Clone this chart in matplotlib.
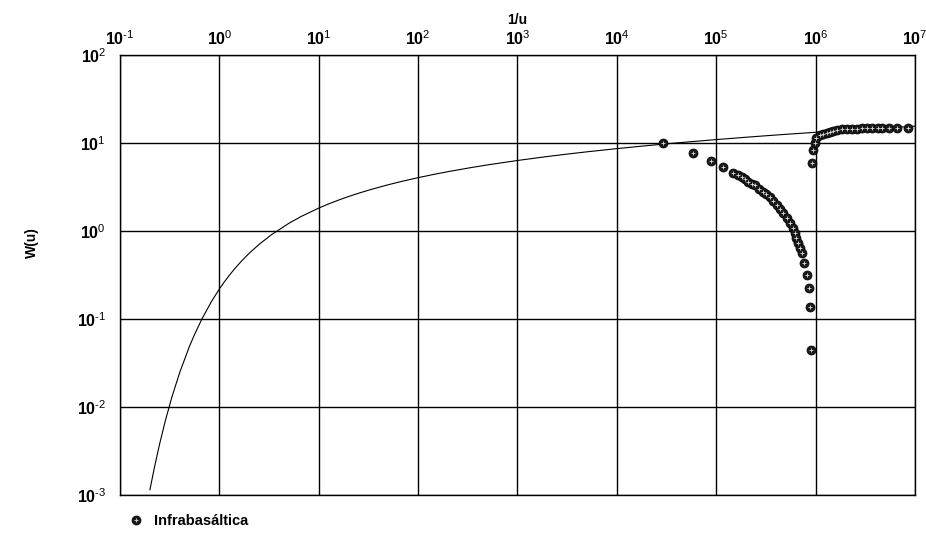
import numpy as np
import matplotlib
matplotlib.use("Agg")
import matplotlib.pyplot as plt
from matplotlib.legend_handler import HandlerTuple

plt.rcParams['font.family'] = ['Liberation Sans', 'DejaVu Sans']
plt.rcParams['mathtext.fontset'] = 'custom'
plt.rcParams['mathtext.rm'] = 'Liberation Sans'
plt.rcParams['mathtext.bf'] = 'Liberation Sans:bold'

# curva tipo de Theis (valores de tabla W(u))
u_tab = [5, 4.5, 4, 3.5, 3, 2.5, 2, 1.8, 1.5, 1.2, 1, 0.9, 0.8, 0.7, 0.6, 0.5, 0.4,
         0.3, 0.2, 0.15, 0.1, 0.08, 0.06, 0.05, 0.04, 0.03, 0.02, 0.015,
         0.01, 7e-3, 5e-3, 3e-3, 2e-3, 1e-3, 5e-4, 3e-4, 2e-4, 1e-4, 5e-5, 3e-5,
         2e-5, 1e-5, 5e-6, 3e-6, 2e-6, 1e-6, 5e-7, 3e-7, 2e-7, 1e-7]
w_tab = [1.148e-3, 2.073e-3, 3.779e-3, 6.970e-3, 1.305e-2, 2.491e-2, 4.890e-2,
         6.471e-2, 0.1000, 0.1584, 0.2194, 0.2602, 0.3106, 0.3738, 0.4544, 0.5598,
         0.7024, 0.9057, 1.2227, 1.4645, 1.8229, 2.0269, 2.2953, 2.4679, 2.6813,
         2.9591, 3.3547, 3.6374, 4.0379, 4.3916, 4.7261, 5.2349, 5.6394, 6.3315,
         7.0242, 7.5348, 7.9402, 8.6332, 9.3263, 9.8371, 10.2426, 10.9357,
         11.6289, 12.1397, 12.5451, 13.2383, 13.9314, 14.4423, 14.8477, 15.5409]

# datos Infrabasaltica
x_datos = [2.9e4, 5.8e4, 8.8e4, 1.16e5, 1.47e5, 1.65e5, 1.8e5, 1.95e5, 2.1e5, 2.3e5,
           2.45e5, 2.7e5, 2.95e5, 3.2e5, 3.47e5, 3.75e5, 4.07e5, 4.4e5, 4.7e5, 5.1e5,
           5.5e5, 5.9e5, 6.2e5, 6.4e5, 6.6e5, 7.0e5, 7.3e5, 7.6e5, 8.2e5, 8.5e5,
           8.7e5, 8.9e5,
           9.1e5, 9.4e5, 9.8e5, 1.02e6, 1.1e6, 1.2e6, 1.29e6, 1.4e6, 1.48e6, 1.65e6,
           1.86e6, 2.05e6, 2.3e6, 2.6e6, 2.9e6, 3.3e6, 3.7e6, 4.2e6, 4.7e6, 5.5e6,
           6.6e6, 8.5e6]
w_datos = [10.1, 7.7, 6.2, 5.3, 4.56, 4.3, 4.1, 3.85, 3.6, 3.45,
           3.3, 3.0, 2.77, 2.6, 2.43, 2.2, 1.97, 1.78, 1.6, 1.4,
           1.23, 1.08, 0.95, 0.84, 0.73, 0.64, 0.56, 0.43, 0.32, 0.225,
           0.137, 0.045,
           5.9, 8.3, 10.0, 11.4, 12.3, 12.7, 13.0, 13.4, 13.7, 14.0,
           14.4, 14.3, 14.4, 14.6, 14.8, 14.8, 15.0, 14.9, 14.8, 14.9,
           14.8, 15.0]

xt = [1e-1, 1e0, 1e1, 1e2, 1e3, 1e4, 1e5, 1e6, 1e7]
xt_lab = ['-1', '0', '1', '2', '3', '4', '5', '6', '7']
yt = [1e-3, 1e-2, 1e-1, 1e0, 1e1, 1e2]
yt_lab = ['-3', '-2', '-1', '0', '1', '2']


def etiqueta(s):
    return r'$\mathbf{10}^{\text{%s}}$' % s


fig = plt.figure(figsize=(9.26, 5.34), dpi=100)
ax = fig.add_axes([0.1296, 0.073, 0.8585, 0.824])

x_theis = 1.0/np.array(u_tab)
ax.plot(x_theis, w_tab, color='black', lw=0.8)

p1, = ax.plot(x_datos, w_datos, 'o', ms=6.5, color='#1a1a1a', mec='black', mew=0.5, ls='none')
p2, = ax.plot(x_datos, w_datos, '+', ms=3.5, color='#dddddd', mew=0.6, ls='none')

ax.set_xscale('log')
ax.set_yscale('log')
ax.set_xlim(1e-1, 1e7)
ax.set_ylim(1e-3, 1e2)
ax.xaxis.tick_top()
ax.xaxis.set_label_position('top')
ax.set_xticks(xt)
ax.set_xticklabels([etiqueta(s) for s in xt_lab])
ax.set_yticks(yt)
ax.set_yticklabels([etiqueta(s) for s in yt_lab])
ax.minorticks_off()
ax.tick_params(length=0, labelsize=11.5)
ax.tick_params(axis='x', pad=5)
ax.tick_params(axis='y', pad=10)
ax.grid(True, color='black', lw=1)
for s in ax.spines.values():
    s.set_color('black')
    s.set_linewidth(1)

ax.set_xlabel('1/u', fontweight='bold', fontsize=10, labelpad=4)
fig.text(0.035, 0.545, 'W(u)', rotation=90, fontweight='bold', fontsize=10,
         ha='center', va='center')

ax.legend(handles=[(p1, p2)], labels=['Infrabasáltica'],
          handler_map={tuple: HandlerTuple(ndivide=1)},
          loc='upper left', bbox_to_anchor=(0.0, -0.02), frameon=False,
          prop={'weight': 'bold', 'size': 10.5}, handlelength=0.8, handletextpad=0.8,
          borderpad=0.2)

plt.savefig('out.png', dpi=100)
